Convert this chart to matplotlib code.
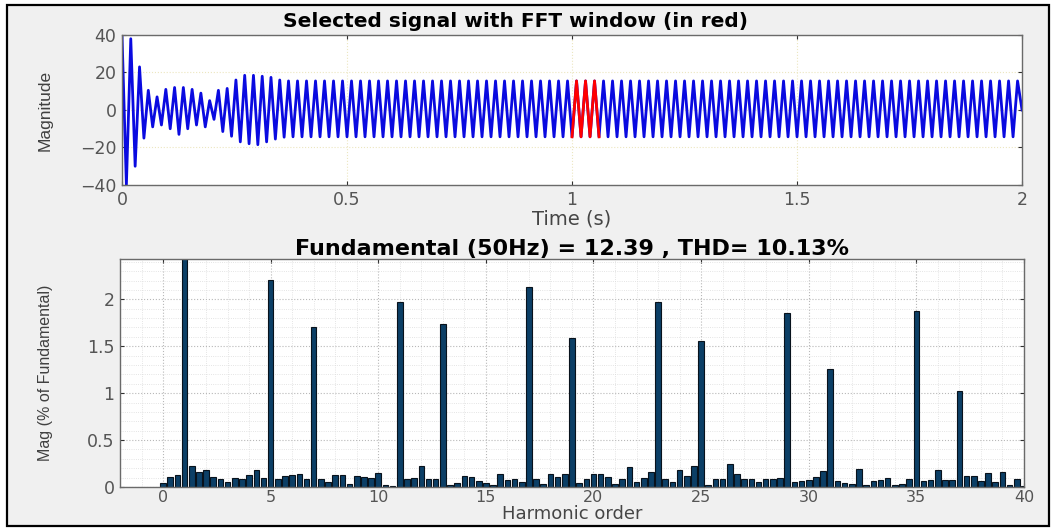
import numpy as np
import matplotlib
matplotlib.use('Agg')
import matplotlib.pyplot as plt
from matplotlib.patches import Rectangle
from matplotlib.ticker import MultipleLocator

plt.rcParams['font.family'] = ['DejaVu Sans']

# ---- time signal: successive extremes (half-cycle peaks) ----
# start-up transient, evenly spaced peaks between 0 and 0.37 s
trans_vals = [40, -40, 38, -30, 23, -15, 10.5, -9, 7, -8, 11, -10, 12, -13,
              12, -10, 11, -8, 9, -9, 5, -5, 10.5, -11.5, 11.5, -14, 16, -17,
              18.5, -18, 18.5, -18.5, 18, -17, 17.4, -15.5, 16, -14.5, 15.5]
trans_end = 0.37
# steady state 50 Hz: trough at 0.38 s, then one extreme every 10 ms
steady_start = 0.38
steady_top = 15.5
steady_bottom = -14.3
t_end = 2.0
end_val = 0.0

fft_start = 1.0      # FFT window start (s)
fft_cycles = 3
f0 = 50.0

# ---- harmonic spectrum, order 0..40 in steps of 1/3 (% of fundamental) ----
mag = [0.04, 0.11, 0.13, 100, 0.22, 0.16, 0.18, 0.11, 0.085, 0.05,
       0.10, 0.085, 0.13, 0.18, 0.10, 2.21, 0.085, 0.12, 0.13, 0.14,
       0.08, 1.71, 0.085, 0.05, 0.13, 0.13, 0.03, 0.12, 0.11, 0.10,
       0.15, 0.02, 0.01, 1.97, 0.09, 0.10, 0.22, 0.08, 0.08, 1.74,
       0.025, 0.045, 0.12, 0.11, 0.065, 0.045, 0.02, 0.135, 0.07, 0.09,
       0.05, 2.13, 0.09, 0.03, 0.135, 0.11, 0.14, 1.59, 0.045, 0.09,
       0.135, 0.135, 0.11, 0.03, 0.08, 0.21, 0.055, 0.10, 0.16, 1.97,
       0.09, 0.055, 0.18, 0.12, 0.22, 1.56, 0.02, 0.09, 0.09, 0.24,
       0.135, 0.09, 0.08, 0.055, 0.08, 0.09, 0.10, 1.85, 0.055, 0.065,
       0.07, 0.11, 0.17, 1.26, 0.065, 0.04, 0.035, 0.19, 0.02, 0.065,
       0.07, 0.10, 0.02, 0.03, 0.09, 1.88, 0.065, 0.07, 0.18, 0.07,
       0.07, 1.02, 0.12, 0.12, 0.065, 0.15, 0.055, 0.16, 0.02, 0.09,
       0.01]
order = np.arange(len(mag)) / 3.0

fundamental = 12.39
thd = 10.13

# build the peak sequence
t_tr = np.linspace(0, trans_end, len(trans_vals))
t_st = np.round(np.arange(steady_start, t_end - 0.005, 0.01), 4)
v_st = np.where(np.arange(len(t_st)) % 2 == 0, steady_bottom, steady_top)
t = np.concatenate([t_tr, t_st, [t_end]])
v = np.concatenate([trans_vals, v_st, [end_val]])

fig = plt.figure(figsize=(10.6, 5.31), dpi=100)
fig.patch.set_facecolor('white')
fig.patches.append(Rectangle((0.007, 0.009), 0.983, 0.982, transform=fig.transFigure,
                             facecolor='#f0f0f0', edgecolor='black', linewidth=1.6, zorder=-10))

tick_col = '#555555'
spine_col = '#6a6a6a'
narrow = ['Liberation Sans Narrow', 'Liberation Sans']

# ---- top: signal ----
ax1 = fig.add_axes([0.1151, 0.6516, 0.8491, 0.2825])
ax1.plot(t, v, color='#0a0ae0', linewidth=2.0)
win = (t >= fft_start - 1e-9) & (t <= fft_start + fft_cycles / f0 + 1e-9)
ax1.plot(t[win], v[win], color='#ff0000', linewidth=2.0)
ax1.set_xlim(0, 2)
ax1.set_ylim(-40, 40)
ax1.set_xticks([0, 0.5, 1, 1.5, 2])
ax1.set_xticklabels(['0', '0.5', '1', '1.5', '2'])
ax1.set_yticks([-40, -20, 0, 20, 40])
ax1.grid(True, linestyle=':', color='#ece6c0', linewidth=0.8)
ax1.set_title('Selected signal with FFT window (in red)', fontsize=14.5,
              fontweight='bold', x=0.437, pad=6)
ax1.set_xlabel('Time (s)', fontsize=14, color='#454545', labelpad=1)
ax1.set_ylabel('Magnitude', fontsize=12.5, color='#404040', family=narrow)
ax1.yaxis.set_label_coords(-0.077, 0.5)

# ---- bottom: spectrum ----
ax2 = fig.add_axes([0.1132, 0.0829, 0.8528, 0.4294])
ax2.bar(order, mag, width=0.26, color='#0c3f66', edgecolor='#08121c', linewidth=0.8)
ax2.set_xlim(-2, 40)
ax2.set_ylim(0, 2.43)
ax2.set_xticks(range(0, 41, 5))
ax2.set_yticks([0, 0.5, 1, 1.5, 2])
ax2.set_yticklabels(['0', '0.5', '1', '1.5', '2'])
ax2.xaxis.set_minor_locator(MultipleLocator(1))
ax2.yaxis.set_minor_locator(MultipleLocator(0.1))
ax2.grid(True, which='major', linestyle=':', color='#b8b8b8', linewidth=0.8)
ax2.grid(True, which='minor', linestyle=':', color='#dcdcdc', linewidth=0.6)
ax2.set_axisbelow(True)
ax2.set_title('Fundamental (50Hz) = %.2f , THD= %.2f%%' % (fundamental, thd),
              fontsize=16, fontweight='bold', pad=3)
ax2.set_xlabel('Harmonic order', fontsize=13, color='#454545', labelpad=0)
ax2.set_ylabel('Mag (% of Fundamental)', fontsize=11.5, color='#404040', family=narrow)
ax2.yaxis.set_label_coords(-0.074, 0.5)

for ax in (ax1, ax2):
    ax.set_facecolor('white')
    ax.tick_params(direction='in', top=True, right=True, length=3,
                   labelsize=12.5, labelcolor=tick_col, color='#303030', pad=4)
    ax.tick_params(which='minor', length=0)
    for s in ax.spines.values():
        s.set_color(spine_col)
        s.set_linewidth(1.0)
ax2.tick_params(axis='x', labelsize=11.5, pad=2)

fig.savefig('out.png', dpi=100, facecolor=fig.get_facecolor())
